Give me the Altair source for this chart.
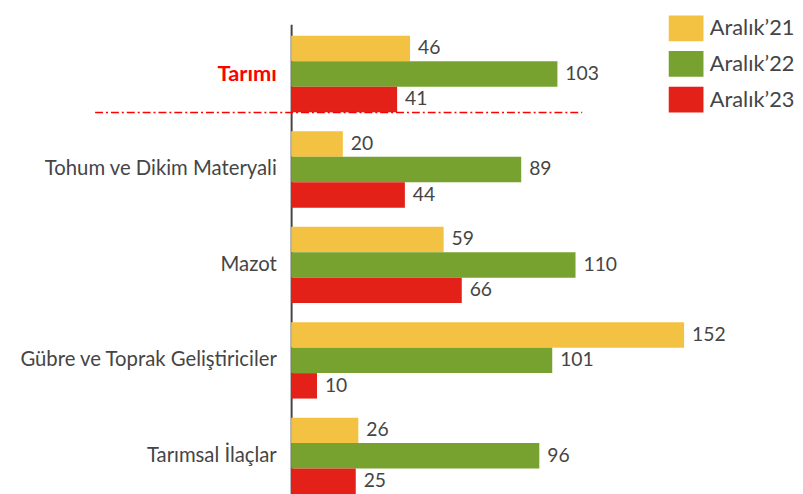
import altair as alt
import pandas as pd

categories = ["Tarımı", "Tohum ve Dikim Materyali", "Mazot", "Gübre ve Toprak Geliştiriciler", "Tarımsal İlaçlar"]
series = ["Aralık’21", "Aralık’22", "Aralık’23"]
v21 = [46, 20, 59, 152, 26]
v22 = [103, 89, 110, 101, 96]
v23 = [41, 44, 66, 10, 25]
colors = ["#F4C243", "#78A22F", "#E32118"]

rows = []
for i, c in enumerate(categories):
    for s, vals in zip(series, [v21, v22, v23]):
        rows.append({"cat": c, "series": s, "value": vals[i]})
df = pd.DataFrame(rows)

FONT = "Lato"
GRAY = "#454545"

y_enc = alt.Y("cat:N", sort=categories,
              scale=alt.Scale(paddingInner=0.2, paddingOuter=0.12),
              axis=alt.Axis(title=None, ticks=False, domain=True, domainColor=GRAY,
                            domainWidth=2, labelFont=FONT,
                            labelFontSize=alt.expr("datum.value == 'Tarımı' ? 22 : 20.5"),
                            labelPadding=15, labelLimit=400,
                            labelColor=alt.expr("datum.value == 'Tarımı' ? '#FF0000' : '#454545'"),
                            labelFontWeight=alt.expr("datum.value == 'Tarımı' ? 'bold' : 'normal'")))
yoff = alt.YOffset("series:N", sort=series, scale=alt.Scale(paddingInner=0, paddingOuter=0))
x_enc = alt.X("value:Q", scale=alt.Scale(domain=[0, 190.3], nice=False), axis=None)

base = alt.Chart(df)
bars = base.mark_bar(cornerRadius=0).encode(
    x=x_enc, y=y_enc, yOffset=yoff,
    color=alt.Color("series:N", sort=series,
                    scale=alt.Scale(domain=series, range=colors),
                    legend=alt.Legend(title=None, orient="none", legendX=386, legendY=-9,
                                      symbolType="M-1.35,-1H1.35V1H-1.35Z",
                                      symbolSize=676, symbolStrokeWidth=0,
                                      labelFontSize=22, labelFont=FONT, labelColor=GRAY,
                                      labelOffset=11, rowPadding=10, padding=0)),
)
labels = base.mark_text(align="left", baseline="middle", dx=8, fontSize=19.5, font=FONT, color=GRAY).encode(
    x=x_enc, y=alt.Y("cat:N", sort=categories), yOffset=yoff, text="value:Q"
)
sep = alt.Chart(pd.DataFrame({"a": [0]})).mark_rule(color="#FF0000", strokeWidth=1.5, strokeDash=[8, 3, 2, 3]).encode(
    x=alt.value(-198), x2=alt.value(294), y=alt.value(89)
)

chart = alt.layer(bars, labels, sep).properties(
    width=497, height=486,
    autosize=alt.AutoSizeParams(type="none"),
    padding={"left": 286, "top": 14, "right": 12, "bottom": 0},
).configure_view(stroke=None)

chart.save("out.html", embed_options={"renderer": "svg", "actions": False})
